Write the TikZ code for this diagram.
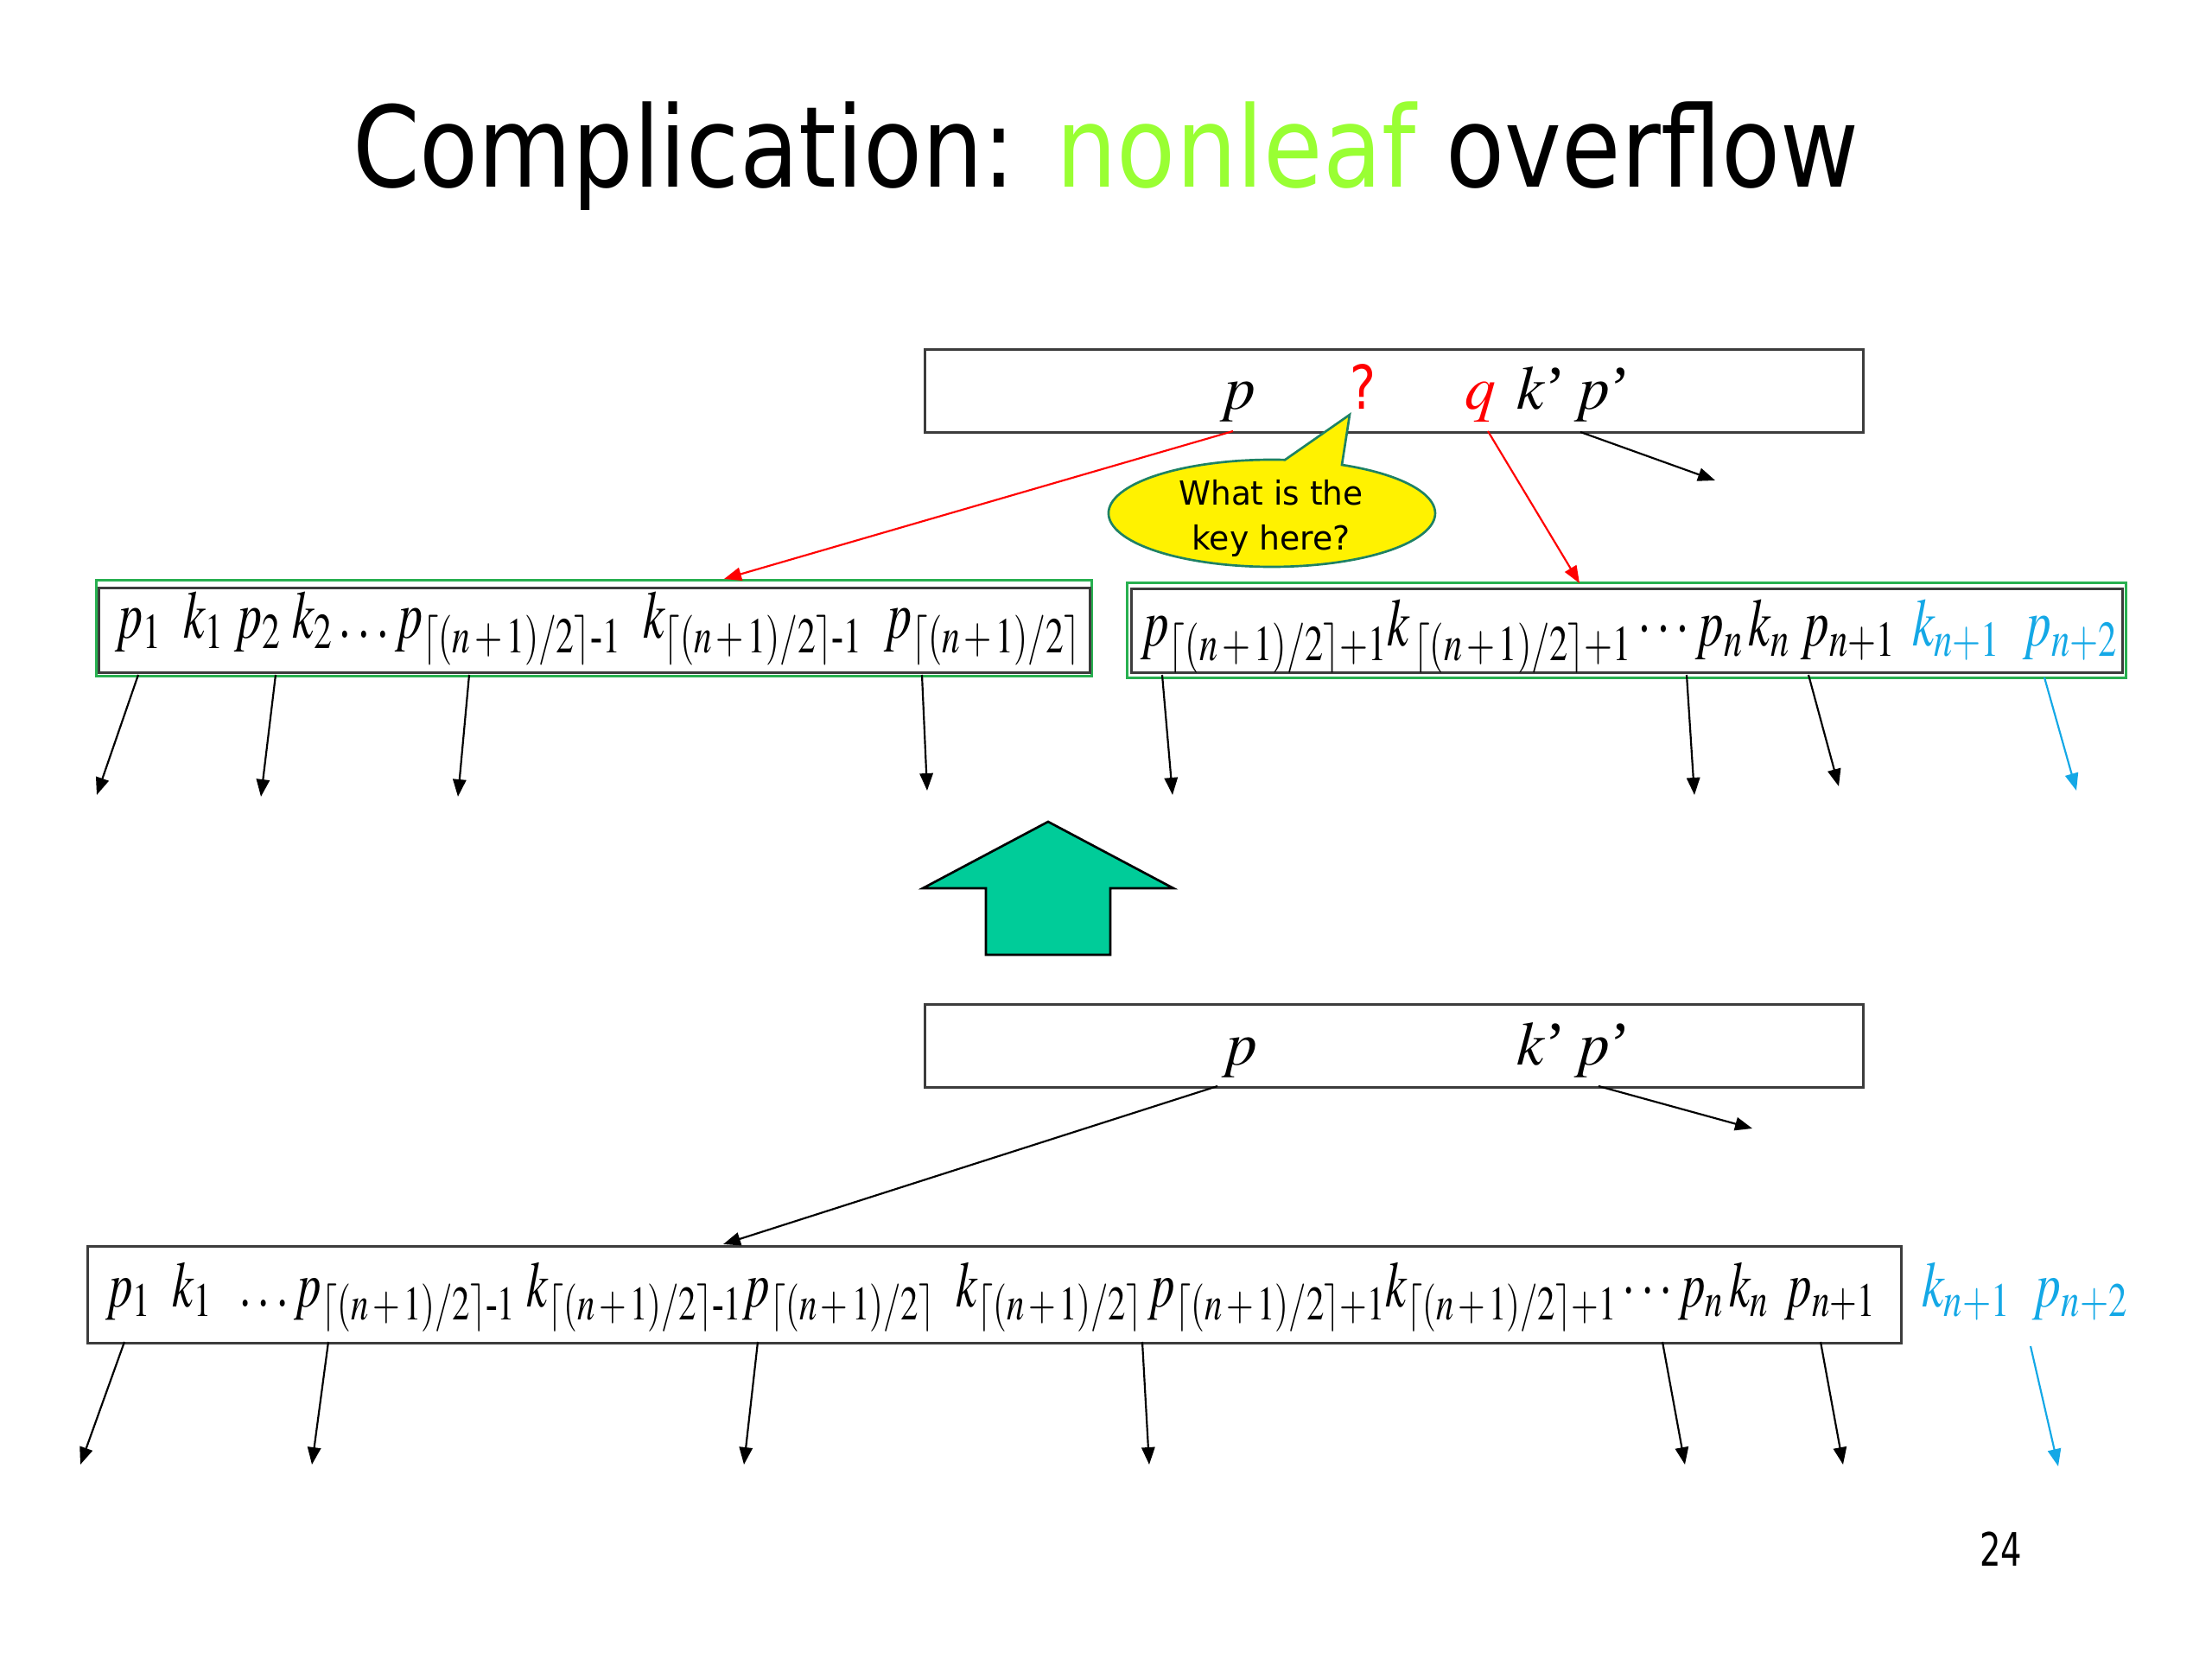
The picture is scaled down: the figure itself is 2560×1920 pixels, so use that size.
\documentclass[tikz,border=0pt]{standalone}
\usepackage{amsmath}
\usepackage{mathptmx}
\usepackage{fontspec}
\setmainfont{Liberation Serif}
\newfontfamily\tahoma{DejaVu Sans}
\usetikzlibrary{arrows.meta}
\definecolor{titlegreen}{RGB}{153,255,51}
\definecolor{keyblue}{RGB}{20,168,230}
\definecolor{boxgreen}{RGB}{40,176,80}
\definecolor{boxgray}{RGB}{60,60,60}
\definecolor{callborder}{RGB}{30,130,100}
\definecolor{arrowgreen}{RGB}{0,204,153}
\newcommand{\cl}{\lceil(n\,+\,1)/2\rceil}
\begin{document}
\begin{tikzpicture}[x=0.3pt,y=-0.3pt,
  txt/.style={inner sep=0pt, outer sep=0pt, anchor=base west},
  plainbox/.style={draw=boxgray, line width=0.9pt, inner sep=0pt, anchor=north west},
  greenbox/.style={draw=boxgreen, line width=0.9pt, inner sep=0pt, anchor=north west},
  ptr/.style={-{Triangle[length=6pt,width=4.6pt]}, line width=0.65pt},
  rowfont/.style={font=\fontsize{23.5}{28}\selectfont},
  lowfont/.style={font=\fontsize{22.5}{27}\selectfont},
  keyfont/.style={font=\fontsize{21.5}{26}\selectfont},
]
\path[use as bounding box] (0,0) rectangle (2560,1920);

% title
\node[txt] (title) at (408,217) {\resizebox{523pt}{\height}{\tahoma\fontsize{39}{44}\selectfont Complication: \textcolor{titlegreen}{nonleaf} overflow}};

% upper parent node
\node[plainbox, minimum width=325.8pt, minimum height=28.8pt] (top) at (1069,403) {};
\node[txt, keyfont] (tp) at (1412,474) {$p$};
\node[txt, text=red] (tq) at (1562,474) {\resizebox{9pt}{\height}{\tahoma\fontsize{21}{24}\selectfont ?}};
\node[txt, keyfont, text=red] (tqq) at (1695,474) {$q$};
\node[txt, keyfont] (tk) at (1755,474) {$k$’};
\node[txt, keyfont] (tpp) at (1822,474) {$p$’};

% callout
\coordinate (tip) at (1562,480);
\coordinate (cr) at (1553,538);
\draw[fill=yellow, draw=callborder, line width=0.8pt] (tip) -- (cr)
   arc[start angle=64.6, end angle=-274.6, x radius=56.7pt, y radius=18.6pt] -- cycle;
\node[anchor=base, inner sep=0pt] (c1) at (1471,585) {\resizebox{64pt}{\height}{\tahoma\fontsize{11.5}{14}\selectfont What is the}};
\node[anchor=base, inner sep=0pt] (c2) at (1471,637) {\resizebox{55pt}{\height}{\tahoma\fontsize{11.5}{14}\selectfont key here?}};

% split children
\node[greenbox, minimum width=345.6pt, minimum height=33.3pt] (lg) at (110,670) {};
\node[plainbox, minimum width=344.1pt, minimum height=29.4pt] (lb) at (113,679) {};
\node[txt, rowfont] (lrow) at (133,739) {\resizebox{335.4pt}{\height}{$p_1\;\; k_1\; p_2\; k_2\ldots p_{\cl\text{-}1}\;\; k_{\cl\text{-}1}\;\; p_{\cl}$}};

\node[greenbox, minimum width=346.8pt, minimum height=33pt] (rg) at (1303,673) {};
\node[plainbox, minimum width=344.1pt, minimum height=29.1pt] (rb) at (1308,680) {};
\node[txt, rowfont] (rrow) at (1320,748) {\resizebox{262.2pt}{\height}{$p_{\cl+1}k_{\,\cl+1}\cdots p_n\,k_n\; p_{n+1}$}};
\node[txt, rowfont, text=keyblue] (rrowc) at (2213,748) {\resizebox{71.4pt}{\height}{$k_{n+1}\;\; p_{n+2}$}};

% arrows from upper parent
\coordinate (u1) at (1427,499); \coordinate (u1e) at (838,670);
\coordinate (u2) at (1722,499); \coordinate (u2e) at (1828,675);
\coordinate (u3) at (1829,500); \coordinate (u3e) at (1985,556);
\draw[ptr, red] (u1) -- (u1e);
\draw[ptr, red] (u2) -- (u2e);
\draw[ptr] (u3) -- (u3e);

% arrows from children
\foreach \sx/\ex/\ey [count=\i] in {160/112/920, 319/302/922, 543/530/922, 1067/1073/915, 1345/1357/920, 1952/1961/920, 2093/2128/910}{
  \coordinate (m\i) at (\sx,781);
  \coordinate (m\i e) at (\ex,\ey);
  \draw[ptr] (m\i) -- (m\i e);
}
\coordinate (m8) at (2366,784); \coordinate (m8e) at (2403,915);
\draw[ptr, keyblue] (m8) -- (m8e);

% big green arrow
\draw[fill=arrowgreen, draw=black, line width=0.8pt, line join=miter]
  (1213,951) -- (1358,1028) -- (1285,1028) -- (1285,1105) -- (1141,1105) -- (1141,1028) -- (1068,1028) -- cycle;

% lower parent
\node[plainbox, minimum width=325.8pt, minimum height=28.8pt] (bot) at (1069,1161) {};
\node[txt, keyfont] (bp) at (1414,1232) {$p$};
\node[txt, keyfont] (bk) at (1755,1232) {$k$’};
\node[txt, keyfont] (bpp) at (1822,1232) {$p$’};

% overflowing node
\node[plainbox, minimum width=629.7pt, minimum height=33.6pt] (big) at (100,1441) {};
\node[txt, lowfont] (brow) at (122,1512) {\resizebox{614.7pt}{\height}{$p_1\;\; k_1\;\;\ldots p_{\cl\text{-}1}\; k_{\cl\text{-}1}p_{\cl}\;\; k_{\cl}\,p_{\cl+1}k_{\cl+1}\cdots p_n\,k_n\;\, p_{n+1}$}};
\node[txt, lowfont, text=keyblue] (browc) at (2224,1512) {\resizebox{71.7pt}{\height}{$k_{n+1}\;\; p_{n+2}$}};

\coordinate (v1) at (1409,1257); \coordinate (v1e) at (837,1440);
\coordinate (v2) at (1850,1257); \coordinate (v2e) at (2028,1306);
\draw[ptr] (v1) -- (v1e);
\draw[ptr] (v2) -- (v2e);

\foreach \sx/\ex [count=\i] in {144/93, 380/361, 877/861, 1322/1330, 1924/1950, 2107/2133}{
  \coordinate (b\i) at (\sx,1553);
  \coordinate (b\i e) at (\ex,1695);
  \draw[ptr] (b\i) -- (b\i e);
}
\coordinate (b7) at (2350,1558); \coordinate (b7e) at (2382,1697);
\draw[ptr, keyblue] (b7) -- (b7e);

% page number
\node[txt] (pg) at (2291,1812) {\resizebox{14.7pt}{\height}{\tahoma\fontsize{16}{19}\selectfont 24}};
\end{tikzpicture}
\end{document}
